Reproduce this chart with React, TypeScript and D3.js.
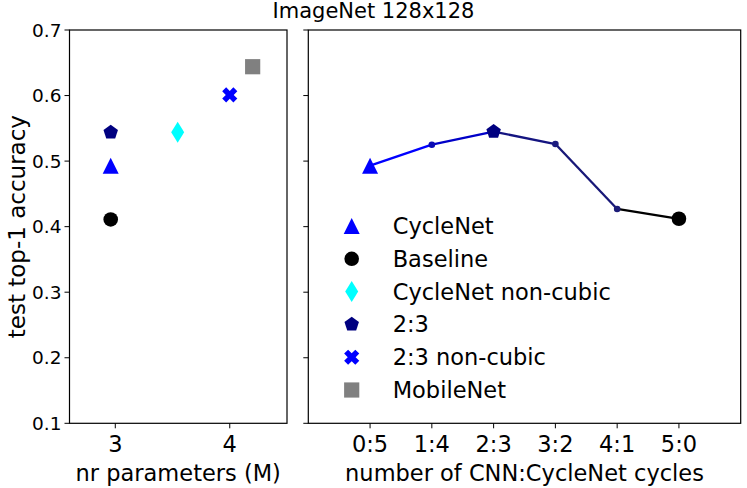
import React from 'react';
import * as d3 from 'd3';

// left panel: accuracy vs. number of parameters (millions)
const modelNames = ['CycleNet', 'Baseline', 'CycleNet non-cubic', '2:3', '2:3 non-cubic', 'MobileNet'];
const modelParams = [2.96, 2.96, 3.545, 2.96, 4.0, 4.2];
const modelAcc = [0.493, 0.411, 0.544, 0.544, 0.601, 0.644];
const modelMarkers = ['triangle', 'circle', 'diamond', 'pentagon', 'x', 'square'];
const modelColors = ['#0000ff', '#000000', '#00ffff', '#000080', '#0000ff', '#808080'];

// right panel: accuracy vs CNN:CycleNet cycle split
const cycleLabels = ['0:5', '1:4', '2:3', '3:2', '4:1', '5:0'];
const cycleAcc = [0.493, 0.525, 0.545, 0.526, 0.427, 0.412];
const segmentColors = ['#0000ff', '#0000c8', '#141480', '#181878', '#000000'];
const dotColors = ['#0000ff', '#0a0ab4', '#000080', '#1c1c80', '#1c1c78', '#000000'];

const paramTicks = [3, 4];
const accTicks = [0.1, 0.2, 0.3, 0.4, 0.5, 0.6, 0.7];

const FONT = 'DejaVu Sans';
const LABEL = 22.5;

function markerPath(kind: string): string {
  switch (kind) {
    case 'triangle':
      return 'M0,-8L8,8L-8,8Z';
    case 'diamond':
      return 'M0,-10.5L6.5,0L0,10.5L-6.5,0Z';
    case 'square':
      return 'M-7.6,-7.6H7.6V7.6H-7.6Z';
    case 'pentagon': {
      const r = 7.6;
      const pts = d3.range(5).map(i => {
        const a = -Math.PI / 2 + (i * 2 * Math.PI) / 5;
        return [r * Math.cos(a), r * Math.sin(a)];
      });
      return 'M' + pts.map(p => p.join(',')).join('L') + 'Z';
    }
    case 'x': {
      const a = 7.9, b = 2.8;
      const plus = [[b, a], [b, b], [a, b], [a, -b], [b, -b], [b, -a], [-b, -a], [-b, -b], [-a, -b], [-a, b], [-b, b], [-b, a]];
      const c = Math.SQRT1_2;
      const pts = plus.map(([x, y]) => [(x - y) * c, (x + y) * c]);
      return 'M' + pts.map(p => p.join(',')).join('L') + 'Z';
    }
    default:
      return d3.symbol(d3.symbolCircle, Math.PI * 7.3 * 7.3)() || '';
  }
}

const Marker = ({ kind, color, x, y }: { kind: string; color: string; x: number; y: number }) => (
  <path d={markerPath(kind)} transform={`translate(${x},${y})`} fill={color} />
);

export default function App() {
  const top = 30, bottom = 423.3;
  const y = d3.scaleLinear().domain([0.1, 0.7]).range([bottom, top]);
  const xl = d3.scaleLinear().domain([2.6, 4.5]).range([69.5, 287]);
  const xr = d3.scaleLinear().domain([-1, 6]).range([308.3, 740.7]);

  const idx = cycleLabels.map((_, i) => i);
  const line = d3.line<number>().x(i => xr(i)).y(i => y(cycleAcc[i]));

  const legendY = d3.scalePoint<string>().domain(modelNames).range([226, 390]);

  return (
    <svg width={747} height={488} style={{ position: 'absolute', left: 0, top: 0, background: '#fff' }}
      fontFamily={FONT}>
      <text x={373.5} y={18} fontSize={21} textAnchor="middle">ImageNet 128x128</text>

      {/* left panel */}
      <rect x={xl.range()[0]} y={top} width={xl.range()[1] - xl.range()[0]} height={bottom - top}
        fill="none" stroke="#000" strokeWidth={1.2} />
      {accTicks.map(t => (
        <g key={t}>
          <line x1={xl.range()[0] - 5} x2={xl.range()[0]} y1={y(t)} y2={y(t)} stroke="#000" />
          <text x={xl.range()[0] - 8} y={y(t)} fontSize={18.5} textAnchor="end" dominantBaseline="central">
            {d3.format('.1f')(t)}
          </text>
        </g>
      ))}
      {paramTicks.map(t => (
        <g key={t}>
          <line x1={xl(t)} x2={xl(t)} y1={bottom} y2={bottom + 5} stroke="#000" />
          <text x={xl(t)} y={452} fontSize={LABEL} textAnchor="middle">{t}</text>
        </g>
      ))}
      <text x={(xl.range()[0] + xl.range()[1]) / 2} y={480.5} fontSize={LABEL} textAnchor="middle">
        nr parameters (M)
      </text>
      <text transform={`translate(25,${(top + bottom) / 2}) rotate(-90)`} fontSize={23} textAnchor="middle">
        test top-1 accuracy
      </text>
      {modelNames.map((m, i) => (
        <Marker key={m} kind={modelMarkers[i]} color={modelColors[i]} x={xl(modelParams[i])} y={y(modelAcc[i])} />
      ))}

      {/* right panel */}
      <rect x={xr.range()[0]} y={top} width={xr.range()[1] - xr.range()[0]} height={bottom - top}
        fill="none" stroke="#000" strokeWidth={1.2} />
      {accTicks.map(t => (
        <line key={t} x1={xr.range()[0] - 5} x2={xr.range()[0]} y1={y(t)} y2={y(t)} stroke="#000" />
      ))}
      {cycleLabels.map((c, i) => (
        <g key={c}>
          <line x1={xr(i)} x2={xr(i)} y1={bottom} y2={bottom + 5} stroke="#000" />
          <text x={xr(i)} y={452} fontSize={LABEL} textAnchor="middle">{c}</text>
        </g>
      ))}
      <text x={(xr.range()[0] + xr.range()[1]) / 2} y={480.5} fontSize={LABEL} textAnchor="middle">
        number of CNN:CycleNet cycles
      </text>
      {segmentColors.map((col, i) => (
        <path key={i} d={line([idx[i], idx[i + 1]]) || ''} stroke={col} strokeWidth={2.3} fill="none" />
      ))}
      {idx.slice(1, 5).filter(i => i !== 2).map(i => (
        <circle key={i} cx={xr(i)} cy={y(cycleAcc[i])} r={3.3} fill={dotColors[i]} />
      ))}
      <Marker kind="triangle" color={modelColors[0]} x={xr(0)} y={y(cycleAcc[0])} />
      <Marker kind="pentagon" color={modelColors[3]} x={xr(2)} y={y(cycleAcc[2])} />
      <Marker kind="circle" color={modelColors[1]} x={xr(5)} y={y(cycleAcc[5])} />

      {/* legend */}
      {modelNames.map((m, i) => (
        <g key={m}>
          <Marker kind={modelMarkers[i]} color={modelColors[i]} x={351.7} y={legendY(m) || 0} />
          <text x={392.7} y={legendY(m) || 0} fontSize={LABEL} dominantBaseline="central">{m}</text>
        </g>
      ))}
    </svg>
  );
}
